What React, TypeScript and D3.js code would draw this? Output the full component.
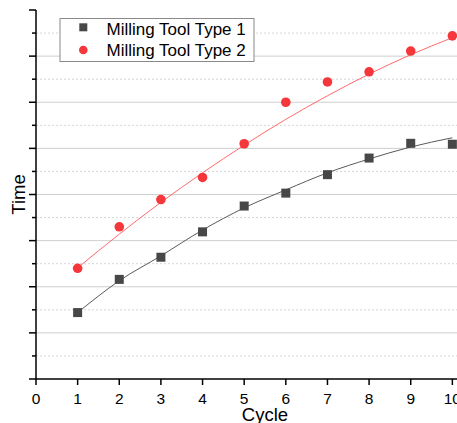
import React from 'react';
import * as d3 from 'd3';

const cycles = [1, 2, 3, 4, 5, 6, 7, 8, 9, 10];
const tool1 = [14.4, 21.6, 26.4, 31.9, 37.5, 40.3, 44.3, 47.9, 51.1, 50.9];
const tool2 = [24.0, 33.0, 38.9, 43.7, 51.0, 60.0, 64.4, 66.6, 71.1, 74.4];
const fit1 = [14.4, 21.3, 26.7, 32.3, 37.1, 41.0, 44.7, 47.7, 50.3, 52.3];
const fit2 = [24.1, 31.4, 38.3, 44.7, 50.7, 56.3, 61.4, 66.1, 70.3, 74.0];
const xTicks = [0, 1, 2, 3, 4, 5, 6, 7, 8, 9, 10];
const legendNames = ['Milling Tool Type 1', 'Milling Tool Type 2'];

const W = 457;
const H = 423;
const font = 'Arial, "Liberation Sans", sans-serif';
const c1 = '#474747';
const c2 = '#f5363b';

export default function App() {
    const x = d3.scaleLinear().domain([0, 11]).range([36, 494]);
    const y = d3.scaleLinear().domain([0, 80]).range([379, 10]);

    const majors = d3.range(0, 81, 10);
    const minors = d3.range(5, 80, 10);

    const line = d3.line<number>()
        .x((_, i) => x(cycles[i]))
        .y(d => y(d))
        .curve(d3.curveMonotoneX);

    return (
        <svg width={W} height={H} style={{ position: 'absolute', left: 0, top: 0, background: '#fff' }}>
            {/* grid */}
            {minors.map(v => (
                <line key={'mi' + v} x1={x(0)} x2={W} y1={y(v)} y2={y(v)}
                    stroke="#d6d6d6" strokeWidth={1} strokeDasharray="2,2" />
            ))}
            {majors.filter(v => v > 0 && v < 80).map(v => (
                <line key={'ma' + v} x1={x(0)} x2={W} y1={y(v)} y2={y(v)}
                    stroke="#cfcfcf" strokeWidth={1} />
            ))}

            {/* fit curves */}
            <path d={line(fit1) || ''} fill="none" stroke="#5a5a5a" strokeWidth={1} />
            <path d={line(fit2) || ''} fill="none" stroke="#ff6b6b" strokeWidth={1} />

            {/* points */}
            {tool1.map((v, i) => (
                <rect key={'s' + i} x={x(cycles[i]) - 4.5} y={y(v) - 4.5} width={9} height={9} fill={c1} />
            ))}
            {tool2.map((v, i) => (
                <circle key={'c' + i} cx={x(cycles[i])} cy={y(v)} r={4.8} fill={c2} />
            ))}

            {/* y axis */}
            <line x1={x(0)} x2={x(0)} y1={y(80)} y2={y(0)} stroke="#000" strokeWidth={1.5} />
            {majors.map(v => (
                <line key={'yt' + v} x1={x(0) - 7} x2={x(0)} y1={y(v)} y2={y(v)} stroke="#000" strokeWidth={1.5} />
            ))}
            {minors.map(v => (
                <line key={'ym' + v} x1={x(0) - 4} x2={x(0)} y1={y(v)} y2={y(v)} stroke="#000" strokeWidth={1.5} />
            ))}

            {/* x axis */}
            <line x1={x(0)} x2={W} y1={y(0)} y2={y(0)} stroke="#000" strokeWidth={1.5} />
            {xTicks.map(t => (
                <g key={'xt' + t}>
                    <line x1={x(t)} x2={x(t)} y1={y(0)} y2={y(0) + 6} stroke="#000" strokeWidth={1.5} />
                    <text x={x(t)} y={y(0) + 25} textAnchor="middle" fontFamily={font} fontSize={15.5} fill="#000">{t}</text>
                </g>
            ))}

            <text x={(x(0) + x(11)) / 2} y={421} textAnchor="middle" fontFamily={font} fontSize={18.5} fill="#000">Cycle</text>
            <text transform={`translate(25,${(y(0) + y(80)) / 2}) rotate(-90)`} textAnchor="middle"
                fontFamily={font} fontSize={18.5} fill="#000">Time</text>

            {/* legend */}
            <rect x={60} y={18.5} width={194} height={43} fill="#fff" stroke="#8a8a8a" strokeWidth={1} />
            <rect x={83.3 - 4} y={27.3 - 4} width={8} height={8} fill={c1} />
            <circle cx={83.3} cy={50} r={4.3} fill={c2} />
            {legendNames.map((n, i) => (
                <text key={n} x={106.5} y={34.5 + i * 21.5} fontFamily={font} fontSize={17} fill="#000">{n}</text>
            ))}
        </svg>
    );
}
